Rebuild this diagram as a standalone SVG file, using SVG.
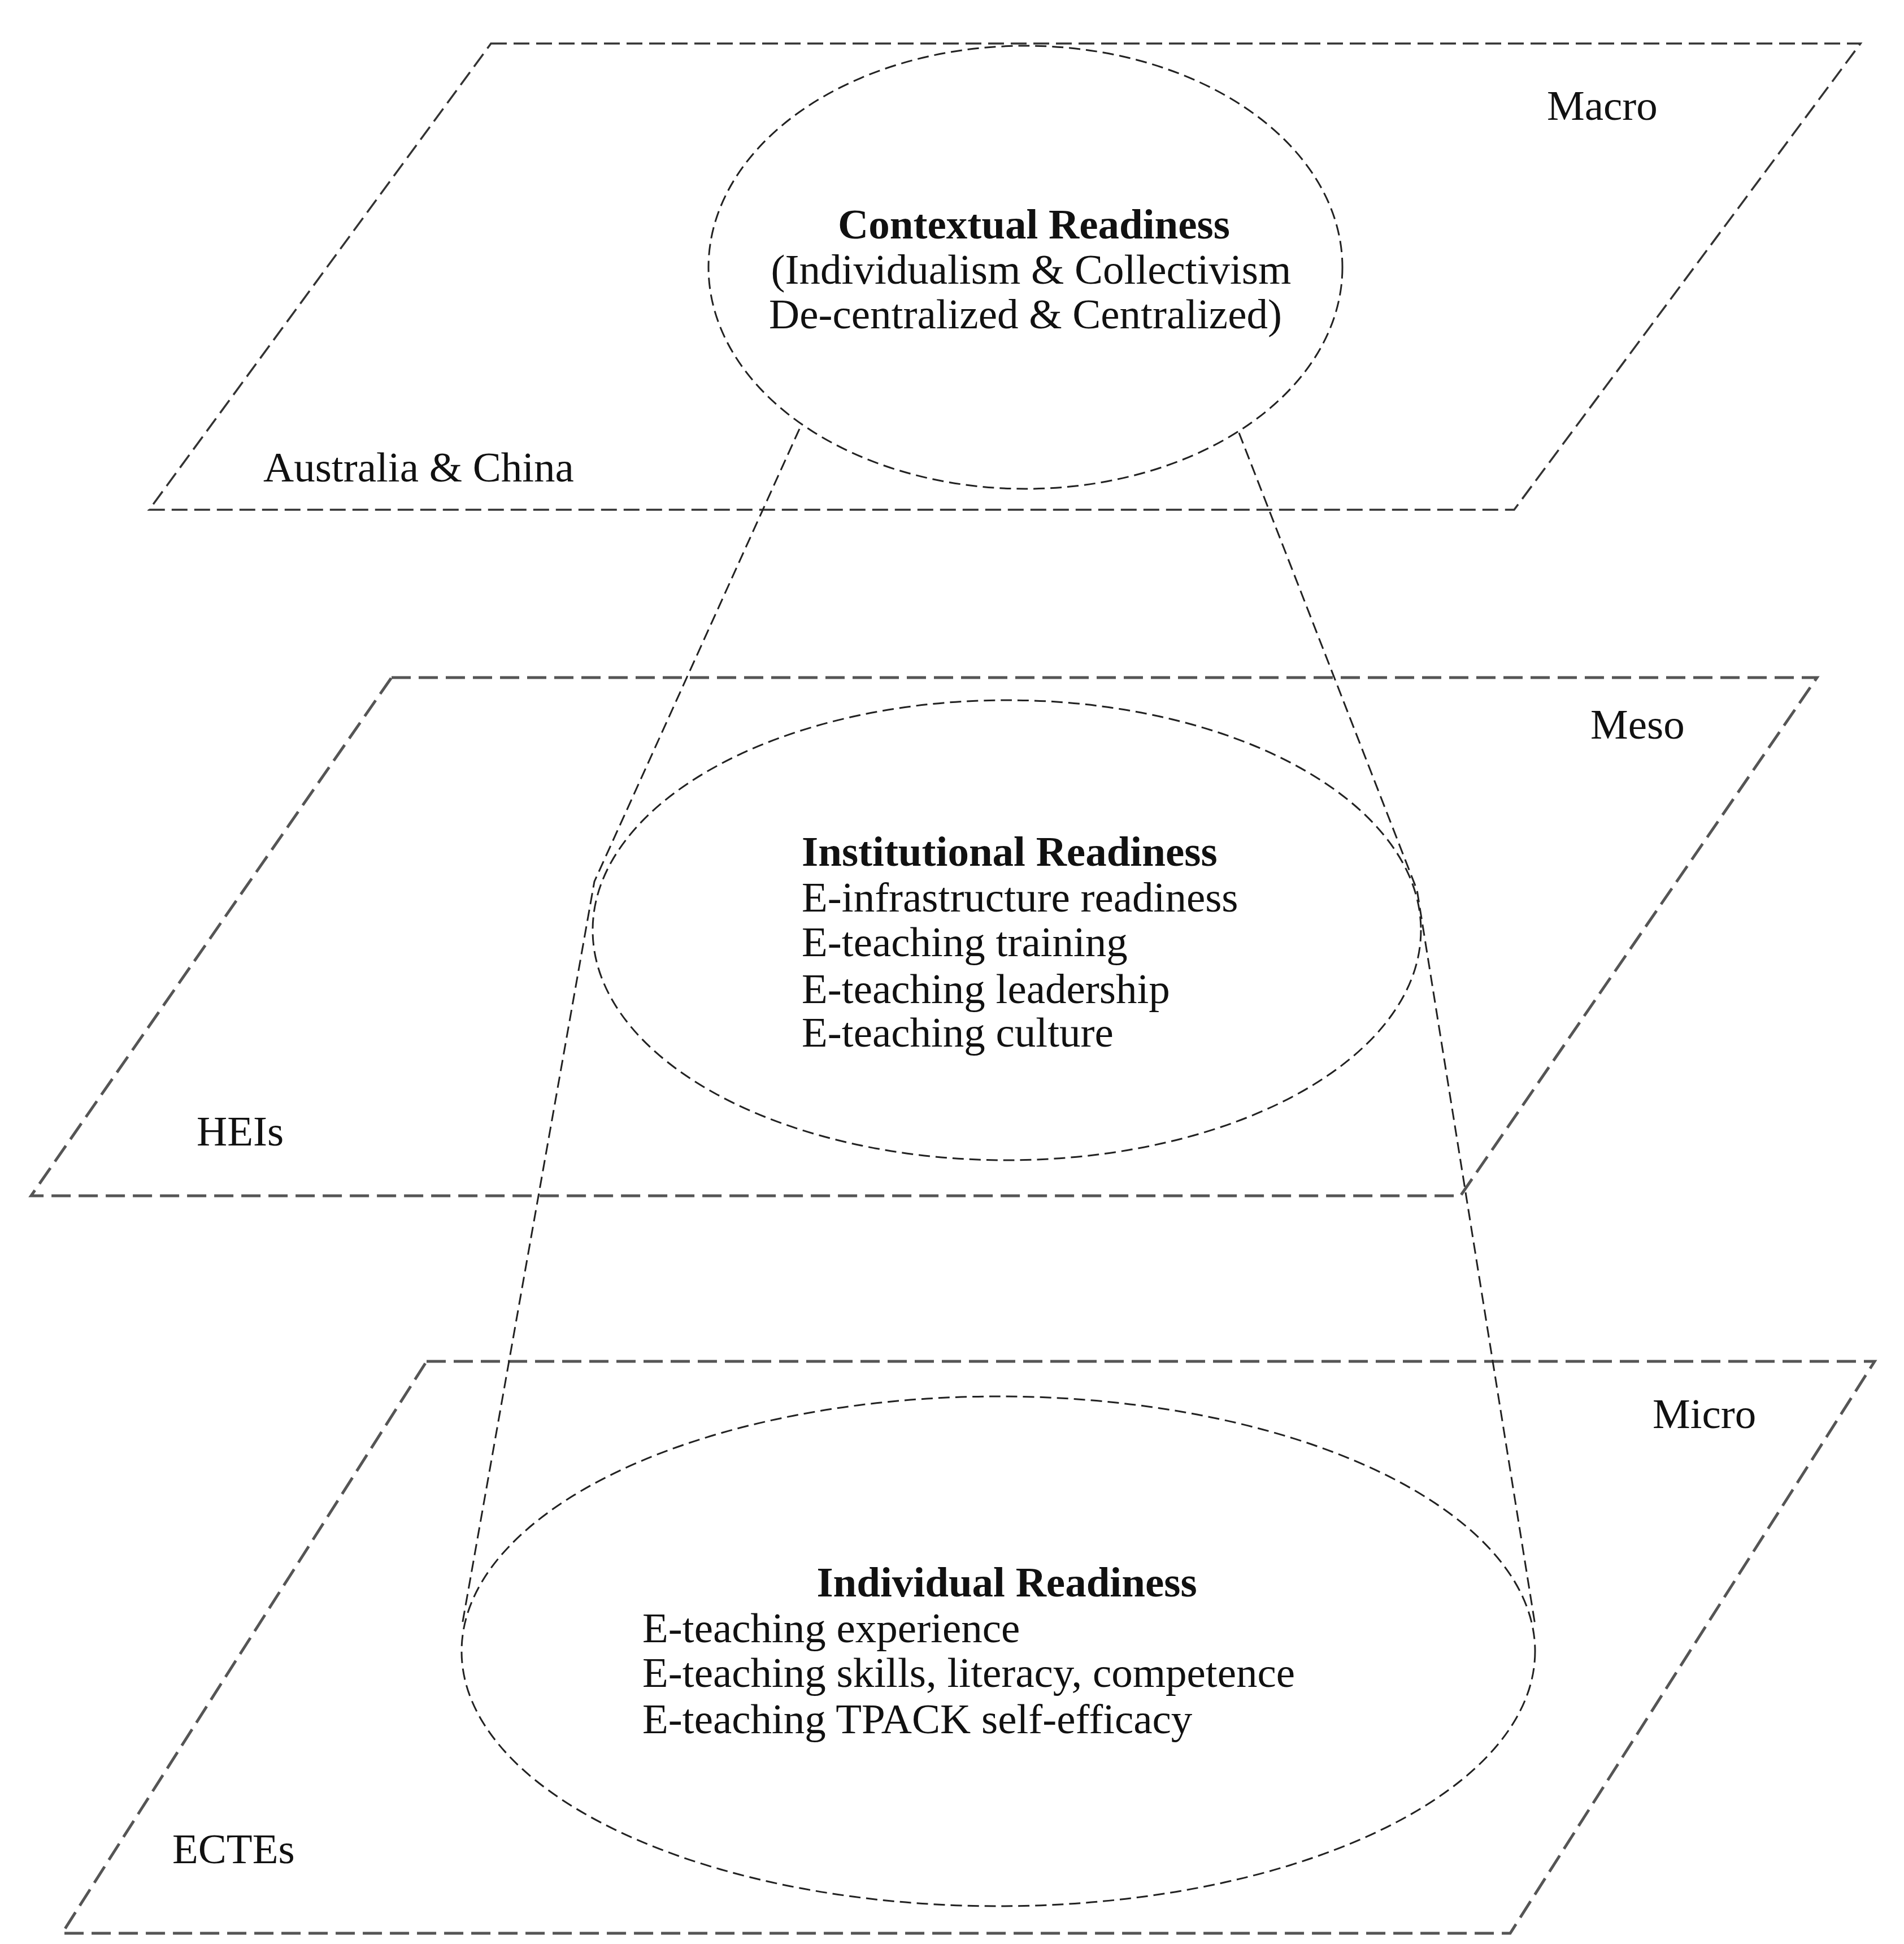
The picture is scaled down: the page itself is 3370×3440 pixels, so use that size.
<svg xmlns="http://www.w3.org/2000/svg" width="3370" height="3440" viewBox="0 0 3370 3440">
<style>
.p{fill:none;stroke:#555;stroke-width:5;stroke-dasharray:34 14}
.pm{fill:none;stroke:#333;stroke-width:3.5;stroke-dasharray:28 12}
.e{fill:none;stroke:#222;stroke-width:3;stroke-dasharray:20 10}
text{font-family:"Liberation Serif",serif;font-size:75px;fill:#111}
.b{font-weight:bold}
</style>
<rect width="3370" height="3440" fill="#fff"/>
<g id="macro">
<polygon class="pm" points="869,77 3293,77 2680,902 264,902"/>
<text x="2738" y="212">Macro</text>
<text x="466" y="852">Australia &amp; China</text>
</g>
<g id="meso">
<polygon class="p" points="693,1199 3216,1199 2585,2116 55,2116"/>
<text x="2815" y="1307">Meso</text>
<text x="348" y="2027">HEIs</text>
</g>
<g id="micro">
<polygon class="p" points="755,2409 3318,2409 2673,3421 110,3421"/>
<text x="2925" y="2527">Micro</text>
<text x="305" y="3297">ECTEs</text>
</g>
<g id="connectors">
<polyline class="e" points="1415,759 1052,1560 818,2875"/>
<polyline class="e" points="2193,766 2508,1575 2717,2875"/>
</g>
<g id="contextual">
<ellipse class="e" cx="1815" cy="473" rx="561" ry="392"/>
<text class="b" x="1830" y="422" text-anchor="middle">Contextual Readiness</text>
<text x="1825" y="502" text-anchor="middle">(Individualism &amp; Collectivism</text>
<text x="1815" y="581" text-anchor="middle">De-centralized &amp; Centralized)</text>
</g>
<g id="institutional">
<ellipse class="e" cx="1782" cy="1646" rx="733" ry="407"/>
<text class="b" x="1419" y="1532">Institutional Readiness</text>
<text x="1419" y="1613">E-infrastructure readiness</text>
<text x="1419" y="1692">E-teaching training</text>
<text x="1419" y="1775">E-teaching leadership</text>
<text x="1419" y="1852">E-teaching culture</text>
</g>
<g id="individual">
<ellipse class="e" cx="1767" cy="2922" rx="950" ry="451"/>
<text class="b" x="1782" y="2825" text-anchor="middle">Individual Readiness</text>
<text x="1137" y="2906">E-teaching experience</text>
<text x="1137" y="2985">E-teaching skills, literacy, competence</text>
<text x="1137" y="3067">E-teaching TPACK self-efficacy</text>
</g>
</svg>
